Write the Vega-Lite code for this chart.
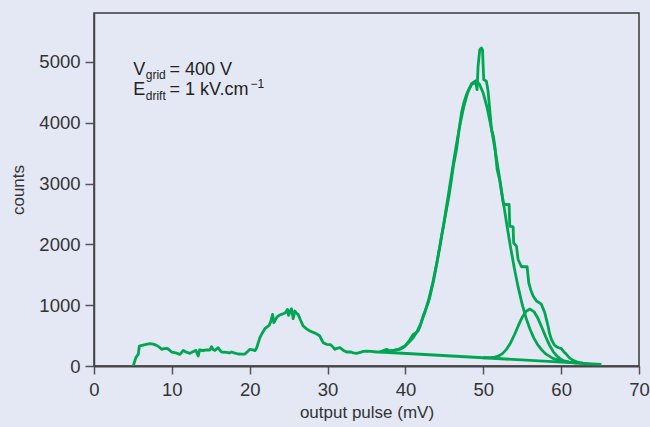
{
  "$schema": "https://vega.github.io/schema/vega-lite/v6.json",
  "width": 545,
  "height": 353,
  "autosize": {"type": "none"},
  "padding": {"left": 94, "top": 13, "right": 11, "bottom": 61},
  "background": "#e4e8f5",
  "config": {
    "view": {"stroke": "#3a3a3a", "strokeWidth": 1.5},
    "font": "Liberation Sans"
  },
  "datasets": {
    "curves": [
      {"s": "data", "x": 5.05, "y": 0}, {"s": "data", "x": 5.25, "y": 90}, {"s": "data", "x": 5.39, "y": 138}, {"s": "data", "x": 5.6, "y": 180},
      {"s": "data", "x": 5.69, "y": 192}, {"s": "data", "x": 5.82, "y": 329}, {"s": "data", "x": 6.0, "y": 335}, {"s": "data", "x": 6.33, "y": 345},
      {"s": "data", "x": 6.7, "y": 355}, {"s": "data", "x": 7.19, "y": 368}, {"s": "data", "x": 7.6, "y": 360}, {"s": "data", "x": 8.04, "y": 340},
      {"s": "data", "x": 8.4, "y": 310}, {"s": "data", "x": 8.69, "y": 274}, {"s": "data", "x": 9.0, "y": 285}, {"s": "data", "x": 9.41, "y": 291},
      {"s": "data", "x": 9.7, "y": 260}, {"s": "data", "x": 9.97, "y": 230}, {"s": "data", "x": 10.5, "y": 215}, {"s": "data", "x": 11.04, "y": 192},
      {"s": "data", "x": 11.2, "y": 215}, {"s": "data", "x": 11.47, "y": 257}, {"s": "data", "x": 11.8, "y": 230}, {"s": "data", "x": 12.32, "y": 208},
      {"s": "data", "x": 12.7, "y": 235}, {"s": "data", "x": 13.09, "y": 257}, {"s": "data", "x": 13.25, "y": 205}, {"s": "data", "x": 13.39, "y": 164},
      {"s": "data", "x": 13.56, "y": 263}, {"s": "data", "x": 14.0, "y": 255}, {"s": "data", "x": 14.5, "y": 265}, {"s": "data", "x": 14.89, "y": 263},
      {"s": "data", "x": 15.1, "y": 318}, {"s": "data", "x": 15.3, "y": 270}, {"s": "data", "x": 15.53, "y": 257}, {"s": "data", "x": 15.96, "y": 301},
      {"s": "data", "x": 16.2, "y": 255}, {"s": "data", "x": 16.39, "y": 230}, {"s": "data", "x": 17.0, "y": 225}, {"s": "data", "x": 17.4, "y": 215},
      {"s": "data", "x": 17.67, "y": 230}, {"s": "data", "x": 18.0, "y": 215}, {"s": "data", "x": 18.53, "y": 197}, {"s": "data", "x": 19.0, "y": 195},
      {"s": "data", "x": 19.38, "y": 197}, {"s": "data", "x": 19.7, "y": 235}, {"s": "data", "x": 20.03, "y": 274}, {"s": "data", "x": 20.4, "y": 265},
      {"s": "data", "x": 20.67, "y": 252}, {"s": "data", "x": 20.9, "y": 300}, {"s": "data", "x": 21.1, "y": 384}, {"s": "data", "x": 21.31, "y": 466},
      {"s": "data", "x": 21.6, "y": 540}, {"s": "data", "x": 21.95, "y": 614}, {"s": "data", "x": 22.2, "y": 640}, {"s": "data", "x": 22.5, "y": 668},
      {"s": "data", "x": 22.7, "y": 730}, {"s": "data", "x": 22.94, "y": 849}, {"s": "data", "x": 23.1, "y": 712}, {"s": "data", "x": 23.3, "y": 760},
      {"s": "data", "x": 23.53, "y": 811}, {"s": "data", "x": 23.9, "y": 840}, {"s": "data", "x": 24.3, "y": 860}, {"s": "data", "x": 24.6, "y": 880},
      {"s": "data", "x": 24.86, "y": 931}, {"s": "data", "x": 25.0, "y": 832}, {"s": "data", "x": 25.2, "y": 900}, {"s": "data", "x": 25.37, "y": 942},
      {"s": "data", "x": 25.58, "y": 778}, {"s": "data", "x": 25.8, "y": 904}, {"s": "data", "x": 26.0, "y": 870}, {"s": "data", "x": 26.22, "y": 849},
      {"s": "data", "x": 26.5, "y": 760}, {"s": "data", "x": 26.87, "y": 657}, {"s": "data", "x": 27.3, "y": 610}, {"s": "data", "x": 27.73, "y": 575},
      {"s": "data", "x": 28.3, "y": 545}, {"s": "data", "x": 28.7, "y": 520}, {"s": "data", "x": 29.01, "y": 493}, {"s": "data", "x": 29.2, "y": 440},
      {"s": "data", "x": 29.44, "y": 384}, {"s": "data", "x": 29.87, "y": 356}, {"s": "data", "x": 30.4, "y": 351}, {"s": "data", "x": 30.7, "y": 310},
      {"s": "data", "x": 30.94, "y": 274}, {"s": "data", "x": 31.2, "y": 290}, {"s": "data", "x": 31.58, "y": 301}, {"s": "data", "x": 32.0, "y": 260},
      {"s": "data", "x": 32.44, "y": 230}, {"s": "data", "x": 33.0, "y": 230}, {"s": "data", "x": 33.3, "y": 215}, {"s": "data", "x": 33.72, "y": 208},
      {"s": "data", "x": 34.2, "y": 225}, {"s": "data", "x": 34.6, "y": 240}, {"s": "data", "x": 35.0, "y": 246}, {"s": "data", "x": 35.6, "y": 240},
      {"s": "data", "x": 36.29, "y": 230}, {"s": "data", "x": 36.71, "y": 230}, {"s": "data", "x": 37.1, "y": 250}, {"s": "data", "x": 37.57, "y": 274},
      {"s": "data", "x": 37.9, "y": 250}, {"s": "data", "x": 38.42, "y": 257}, {"s": "data", "x": 38.8, "y": 265}, {"s": "data", "x": 39.28, "y": 274},
      {"s": "data", "x": 39.7, "y": 300}, {"s": "data", "x": 40.14, "y": 356}, {"s": "data", "x": 40.5, "y": 420}, {"s": "data", "x": 40.99, "y": 520},
      {"s": "data", "x": 41.3, "y": 540}, {"s": "data", "x": 41.63, "y": 575}, {"s": "data", "x": 41.9, "y": 660}, {"s": "data", "x": 42.27, "y": 821},
      {"s": "data", "x": 42.6, "y": 930}, {"s": "data", "x": 42.92, "y": 1040}, {"s": "data", "x": 43.2, "y": 1170}, {"s": "data", "x": 43.56, "y": 1369},
      {"s": "data", "x": 43.9, "y": 1600}, {"s": "data", "x": 44.2, "y": 1807}, {"s": "data", "x": 44.63, "y": 2135}, {"s": "data", "x": 44.9, "y": 2310},
      {"s": "data", "x": 45.27, "y": 2574}, {"s": "data", "x": 45.6, "y": 2800}, {"s": "data", "x": 45.91, "y": 3067}, {"s": "data", "x": 46.2, "y": 3320},
      {"s": "data", "x": 46.56, "y": 3559}, {"s": "data", "x": 46.9, "y": 3900}, {"s": "data", "x": 47.2, "y": 4162}, {"s": "data", "x": 47.5, "y": 4330},
      {"s": "data", "x": 47.84, "y": 4463}, {"s": "data", "x": 48.2, "y": 4560}, {"s": "data", "x": 48.49, "y": 4627}, {"s": "data", "x": 48.8, "y": 4650},
      {"s": "data", "x": 49.04, "y": 4655}, {"s": "data", "x": 49.2, "y": 4545}, {"s": "data", "x": 49.33, "y": 4928}, {"s": "data", "x": 49.55, "y": 5202},
      {"s": "data", "x": 49.76, "y": 5230}, {"s": "data", "x": 49.9, "y": 5200}, {"s": "data", "x": 50.06, "y": 4710}, {"s": "data", "x": 50.4, "y": 4682},
      {"s": "data", "x": 50.62, "y": 4518}, {"s": "data", "x": 50.83, "y": 4217}, {"s": "data", "x": 51.05, "y": 3888}, {"s": "data", "x": 51.3, "y": 3780},
      {"s": "data", "x": 51.48, "y": 3614}, {"s": "data", "x": 51.78, "y": 3231}, {"s": "data", "x": 52.12, "y": 3050}, {"s": "data", "x": 52.46, "y": 2760},
      {"s": "data", "x": 52.6, "y": 2656}, {"s": "data", "x": 53.32, "y": 2656}, {"s": "data", "x": 53.4, "y": 2300}, {"s": "data", "x": 53.83, "y": 2289},
      {"s": "data", "x": 53.9, "y": 2026}, {"s": "data", "x": 54.26, "y": 1971}, {"s": "data", "x": 54.47, "y": 1752}, {"s": "data", "x": 54.9, "y": 1632},
      {"s": "data", "x": 55.63, "y": 1632}, {"s": "data", "x": 55.84, "y": 1369}, {"s": "data", "x": 56.1, "y": 1250}, {"s": "data", "x": 56.4, "y": 1150},
      {"s": "data", "x": 56.83, "y": 1068}, {"s": "data", "x": 57.2, "y": 1040}, {"s": "data", "x": 57.47, "y": 1013}, {"s": "data", "x": 57.9, "y": 876},
      {"s": "data", "x": 58.1, "y": 770}, {"s": "data", "x": 58.32, "y": 657}, {"s": "data", "x": 58.5, "y": 540}, {"s": "data", "x": 58.75, "y": 438},
      {"s": "data", "x": 59.1, "y": 350}, {"s": "data", "x": 59.4, "y": 318}, {"s": "data", "x": 59.7, "y": 300}, {"s": "data", "x": 60.04, "y": 285},
      {"s": "data", "x": 60.3, "y": 240}, {"s": "data", "x": 60.68, "y": 192}, {"s": "data", "x": 61.1, "y": 130}, {"s": "data", "x": 61.53, "y": 93},
      {"s": "data", "x": 62.0, "y": 70}, {"s": "data", "x": 62.39, "y": 55}, {"s": "data", "x": 63.0, "y": 40}, {"s": "data", "x": 63.46, "y": 33},

      {"s": "fit1", "x": 37, "y": 238}, {"s": "fit1", "x": 38, "y": 244}, {"s": "fit1", "x": 39, "y": 268}, {"s": "fit1", "x": 40, "y": 331},
      {"s": "fit1", "x": 41, "y": 464}, {"s": "fit1", "x": 41.5, "y": 568}, {"s": "fit1", "x": 42, "y": 706}, {"s": "fit1", "x": 42.5, "y": 882},
      {"s": "fit1", "x": 43, "y": 1100}, {"s": "fit1", "x": 43.5, "y": 1365}, {"s": "fit1", "x": 44, "y": 1671}, {"s": "fit1", "x": 44.5, "y": 2020},
      {"s": "fit1", "x": 45, "y": 2401}, {"s": "fit1", "x": 45.5, "y": 2803}, {"s": "fit1", "x": 46, "y": 3211}, {"s": "fit1", "x": 46.5, "y": 3604},
      {"s": "fit1", "x": 47, "y": 3964}, {"s": "fit1", "x": 47.5, "y": 4267}, {"s": "fit1", "x": 48, "y": 4500}, {"s": "fit1", "x": 48.5, "y": 4644},
      {"s": "fit1", "x": 49, "y": 4690}, {"s": "fit1", "x": 49.5, "y": 4637}, {"s": "fit1", "x": 50, "y": 4485}, {"s": "fit1", "x": 50.5, "y": 4245},
      {"s": "fit1", "x": 51, "y": 3935}, {"s": "fit1", "x": 51.5, "y": 3567}, {"s": "fit1", "x": 52, "y": 3167}, {"s": "fit1", "x": 52.5, "y": 2752},
      {"s": "fit1", "x": 53, "y": 2342}, {"s": "fit1", "x": 53.5, "y": 1954}, {"s": "fit1", "x": 54, "y": 1598}, {"s": "fit1", "x": 54.5, "y": 1284},
      {"s": "fit1", "x": 55, "y": 1012}, {"s": "fit1", "x": 55.5, "y": 787}, {"s": "fit1", "x": 56, "y": 604}, {"s": "fit1", "x": 56.5, "y": 459},
      {"s": "fit1", "x": 57, "y": 347}, {"s": "fit1", "x": 57.5, "y": 265}, {"s": "fit1", "x": 58, "y": 200}, {"s": "fit1", "x": 59, "y": 122},
      {"s": "fit1", "x": 60, "y": 83}, {"s": "fit1", "x": 61, "y": 62}, {"s": "fit1", "x": 62, "y": 50}, {"s": "fit1", "x": 63, "y": 41},

      {"s": "fit2", "x": 50, "y": 136}, {"s": "fit2", "x": 51, "y": 137}, {"s": "fit2", "x": 51.5, "y": 145}, {"s": "fit2", "x": 52, "y": 166},
      {"s": "fit2", "x": 52.5, "y": 208}, {"s": "fit2", "x": 53, "y": 278}, {"s": "fit2", "x": 53.5, "y": 380}, {"s": "fit2", "x": 54, "y": 514},
      {"s": "fit2", "x": 54.5, "y": 663}, {"s": "fit2", "x": 55, "y": 802}, {"s": "fit2", "x": 55.5, "y": 902}, {"s": "fit2", "x": 56, "y": 936},
      {"s": "fit2", "x": 56.5, "y": 895}, {"s": "fit2", "x": 57, "y": 788}, {"s": "fit2", "x": 57.5, "y": 641}, {"s": "fit2", "x": 58, "y": 485},
      {"s": "fit2", "x": 58.5, "y": 344}, {"s": "fit2", "x": 59, "y": 234}, {"s": "fit2", "x": 59.5, "y": 157}, {"s": "fit2", "x": 60, "y": 108},
      {"s": "fit2", "x": 60.5, "y": 79}, {"s": "fit2", "x": 61, "y": 64}, {"s": "fit2", "x": 62, "y": 48},

      {"s": "base", "x": 36.7, "y": 230}, {"s": "base", "x": 65.17, "y": 28}
    ],
    "mainText": [
      {"x": 5.05, "y": 4791, "t": "V"}, {"x": 9.7, "y": 4791, "t": "= 400 V"},
      {"x": 5.05, "y": 4451, "t": "E"}, {"x": 9.7, "y": 4451, "t": "= 1 kV.cm"}
    ],
    "subText": [
      {"x": 6.65, "y": 4726, "t": "grid"}, {"x": 6.65, "y": 4381, "t": "drift"}
    ],
    "supText": [
      {"x": 20.1, "y": 4573, "t": "−1"}
    ]
  },
  "encoding": {
    "x": {
      "field": "x", "type": "quantitative",
      "scale": {"domain": [0, 70], "nice": false, "zero": false},
      "axis": {
        "values": [0, 10, 20, 30, 40, 50, 60, 70],
        "title": "output pulse (mV)", "grid": false,
        "domainColor": "#444", "domainWidth": 2,
        "tickColor": "#555", "tickWidth": 1.5, "tickSize": 8,
        "labelFontSize": 18.5, "labelColor": "#333", "labelPadding": 6, "labelFlush": false,
        "titleFontSize": 17, "titleFontWeight": "normal", "titleColor": "#333", "titlePadding": 6
      }
    },
    "y": {
      "field": "y", "type": "quantitative",
      "scale": {"domain": [0, 5805], "nice": false},
      "axis": {
        "values": [0, 1000, 2000, 3000, 4000, 5000],
        "format": "d",
        "title": "counts", "grid": false,
        "domainColor": "#444", "domainWidth": 1.5,
        "tickColor": "#555", "tickWidth": 1.5, "tickSize": 9,
        "labelFontSize": 18.5, "labelColor": "#333", "labelPadding": 5,
        "titleFontSize": 17, "titleFontWeight": "normal", "titleColor": "#333", "titlePadding": 11
      }
    }
  },
  "layer": [
    {
      "data": {"name": "curves"},
      "mark": {"type": "line", "color": "#00a651", "strokeWidth": 2.8, "strokeJoin": "round", "clip": true},
      "encoding": {"detail": {"field": "s"}}
    },
    {
      "data": {"name": "mainText"},
      "mark": {"type": "text", "align": "left", "baseline": "alphabetic", "fontSize": 18, "color": "#222"},
      "encoding": {"text": {"field": "t"}}
    },
    {
      "data": {"name": "subText"},
      "mark": {"type": "text", "align": "left", "baseline": "alphabetic", "fontSize": 12, "color": "#222"},
      "encoding": {"text": {"field": "t"}}
    },
    {
      "data": {"name": "supText"},
      "mark": {"type": "text", "align": "left", "baseline": "alphabetic", "fontSize": 12, "color": "#222"},
      "encoding": {"text": {"field": "t"}}
    }
  ]
}
